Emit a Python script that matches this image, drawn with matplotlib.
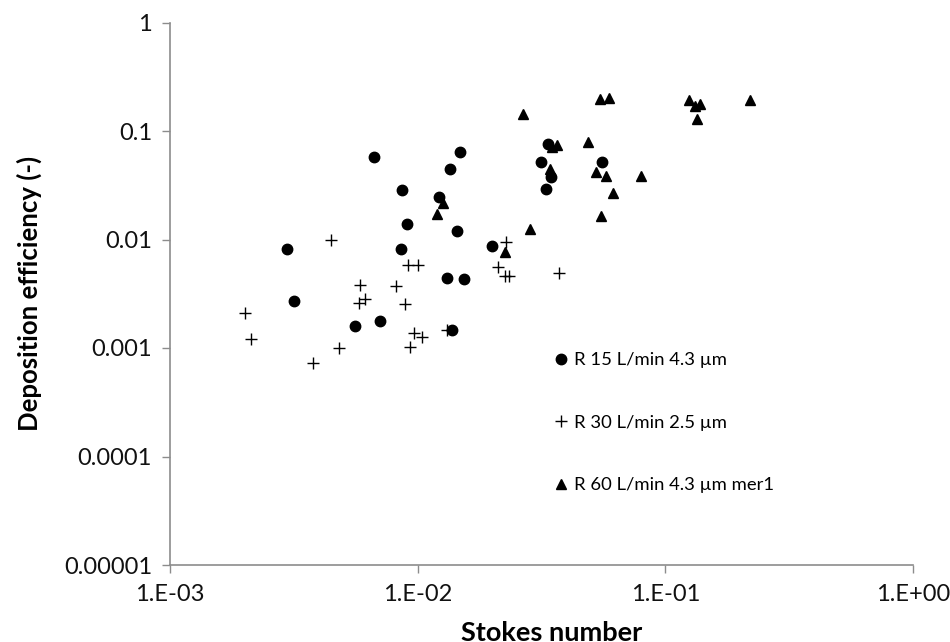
import matplotlib
matplotlib.use("Agg")
import matplotlib.pyplot as plt
from matplotlib.ticker import FixedLocator, FixedFormatter, NullLocator

plt.rcParams['font.family'] = ['Lato', 'DejaVu Sans']

# Series: R 15 L/min 4.3 um (circles)
s15_x = [0.00666, 0.0135, 0.0148, 0.00864, 0.01216, 0.00905, 0.01437, 0.00298,
         0.00856, 0.01313, 0.00316, 0.0056, 0.00706, 0.01372, 0.01995, 0.01542,
         0.0337, 0.03137, 0.03453, 0.03296, 0.0553]
s15_y = [0.0578, 0.0442, 0.0645, 0.0283, 0.0244, 0.0139, 0.0121, 0.00819,
         0.00826, 0.00442, 0.00274, 0.0016, 0.00179, 0.00148, 0.00873, 0.0043,
         0.0757, 0.0513, 0.0378, 0.0289, 0.0516]

# Series: R 30 L/min 2.5 um (plus)
s30_x = [0.00448, 0.00914, 0.01003, 0.00585, 0.0082, 0.00614, 0.00578, 0.00889,
         0.00201, 0.00213, 0.00969, 0.01044, 0.0048, 0.00931, 0.00378, 0.0131,
         0.02273, 0.0211, 0.0225, 0.0234, 0.0373]
s30_y = [0.00985, 0.00588, 0.00576, 0.00381, 0.00373, 0.00281, 0.00258, 0.00255,
         0.00209, 0.00122, 0.00137, 0.00126, 0.00101, 0.00102, 0.000727, 0.00146,
         0.00944, 0.00559, 0.00459, 0.00459, 0.00492]

# Series: R 60 L/min 4.3 um mer1 (triangles)
s60_x = [0.0543, 0.0594, 0.1249, 0.132, 0.1386, 0.1341, 0.2196, 0.0266,
         0.0348, 0.0364, 0.0486, 0.0342, 0.0524, 0.0574, 0.0801, 0.0616,
         0.055, 0.0283, 0.0225, 0.01262, 0.01193]
s60_y = [0.197, 0.200, 0.195, 0.1686, 0.1763, 0.128, 0.193, 0.142,
         0.0715, 0.0737, 0.0785, 0.0442, 0.0418, 0.0386, 0.0386, 0.0267,
         0.0164, 0.01245, 0.00764, 0.02176, 0.0171]

labels = ["R 15 L/min 4.3 \u00b5m", "R 30 L/min 2.5 \u00b5m", "R 60 L/min 4.3 \u00b5m mer1"]

x_ticks = [1e-3, 1e-2, 1e-1, 1e0]
x_tick_labels = ["1.E-03", "1.E-02", "1.E-01", "1.E+00"]
y_ticks = [1e-5, 1e-4, 1e-3, 1e-2, 1e-1, 1e0]
y_tick_labels = ["0.00001", "0.0001", "0.001", "0.01", "0.1", "1"]

fig = plt.figure(figsize=(9.5, 6.42), dpi=100)
ax = fig.add_axes([170/950, 1-565/642, (913-170)/950, (565-22.5)/642])

ax.plot(s15_x, s15_y, 'o', color='black', ms=7.5, ls='none', label=labels[0])
ax.plot(s30_x, s30_y, '+', color='black', ms=8, mew=1.0, ls='none', label=labels[1])
ax.plot(s60_x, s60_y, '^', color='black', ms=7.8, ls='none', label=labels[2])

ax.set_xscale('log')
ax.set_yscale('log')
ax.set_xlim(1e-3, 1e0)
ax.set_ylim(1e-5, 1e0)

ax.xaxis.set_major_locator(FixedLocator(x_ticks))
ax.xaxis.set_major_formatter(FixedFormatter(x_tick_labels))
ax.yaxis.set_major_locator(FixedLocator(y_ticks))
ax.yaxis.set_major_formatter(FixedFormatter(y_tick_labels))
ax.xaxis.set_minor_locator(NullLocator())
ax.yaxis.set_minor_locator(NullLocator())

gray = '#8c8c8c'
for s in ['top', 'right']:
    ax.spines[s].set_visible(False)
for s in ['left', 'bottom']:
    ax.spines[s].set_color(gray)
    ax.spines[s].set_linewidth(1.2)
ax.tick_params(axis='both', which='major', direction='out', length=6, width=1.0,
               color=gray, labelsize=17, labelcolor='#111111')
ax.tick_params(axis='x', pad=8)
ax.tick_params(axis='y', pad=7)

ax.set_xlabel("Stokes number", fontsize=19.5, fontweight='bold')
ax.xaxis.set_label_coords(0.514, -0.104)
ax.set_ylabel("Deposition efficiency (-)", fontsize=18.5, fontweight='bold')
ax.yaxis.set_label_coords(-0.172, 0.5)

leg = ax.legend(loc='upper left', bbox_to_anchor=(0.509, 0.4063), frameon=False,
                fontsize=13.3, labelspacing=2.52, handlelength=0.6, handletextpad=0.4,
                borderaxespad=0)

fig.savefig("out.png", dpi=100)
